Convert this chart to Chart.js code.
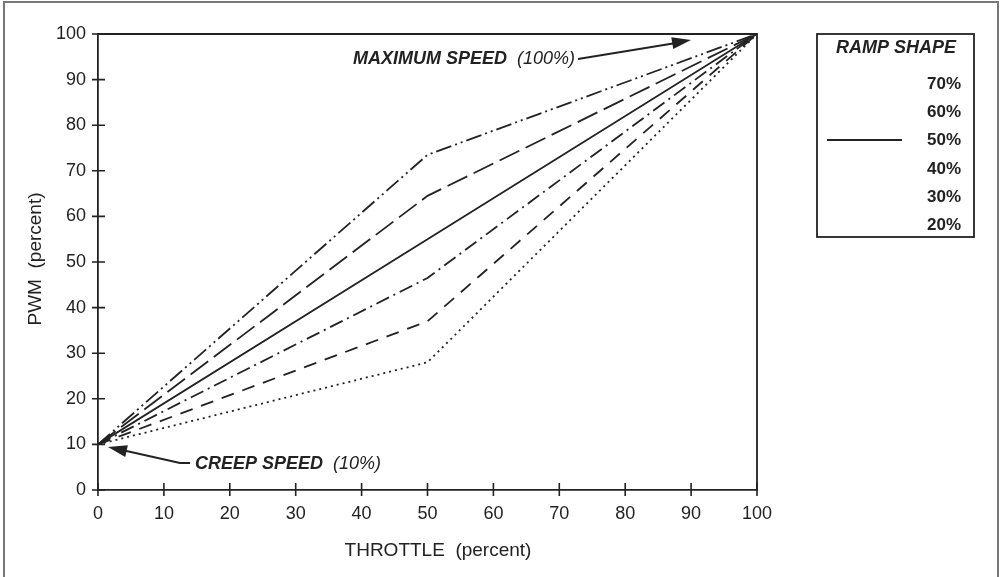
<!DOCTYPE html>
<html>
<head>
<meta charset="utf-8">
<script src="https://cdn.jsdelivr.net/npm/chart.js@4.4.1/dist/chart.umd.min.js"></script>
<style>
  html, body { margin: 0; padding: 0; background: #fff; }
  #wrap { width: 1000px; height: 577px; }
</style>
</head>
<body>
<div id="wrap"><canvas id="RampChart" width="1000" height="577"></canvas></div>
<script>
// throttle positions (percent) and PWM output for each ramp shape
const throttle = [0, 50, 100];
const ramp70 = [10, 73.5, 100];
const ramp60 = [10, 64.5, 100];
const ramp50 = [10, 55, 100];
const ramp40 = [10, 46.5, 100];
const ramp30 = [10, 37, 100];
const ramp20 = [10, 28, 100];
const rampLabels = ['70%', '60%', '50%', '40%', '30%', '20%'];
const xTicks = [0, 10, 20, 30, 40, 50, 60, 70, 80, 90, 100];
const yTicks = [0, 10, 20, 30, 40, 50, 60, 70, 80, 90, 100];

const INK = '#222';
const FONT = '"Liberation Sans", Arial, sans-serif';

function pts(values) {
    return throttle.map((t, i) => ({ x: t, y: values[i] }));
}

function ramp(label, values, dash) {
    return {
        label: label,
        data: pts(values),
        borderColor: INK,
        borderWidth: 1.8,
        borderDash: dash,
        pointRadius: 0,
        fill: false,
        tension: 0
    };
}

function arrowHead(ctx, fx, fy, tx, ty) {
    const ang = Math.atan2(ty - fy, tx - fx);
    const len = 19, half = 6;
    ctx.beginPath();
    ctx.moveTo(tx, ty);
    ctx.lineTo(tx - len * Math.cos(ang) + half * Math.sin(ang), ty - len * Math.sin(ang) - half * Math.cos(ang));
    ctx.lineTo(tx - len * Math.cos(ang) - half * Math.sin(ang), ty - len * Math.sin(ang) + half * Math.cos(ang));
    ctx.closePath();
    ctx.fill();
}

// frame, crossing ticks, titles, notes and the ramp legend
const extras = {
    id: 'extras',
    afterDraw(chart) {
        const { ctx, chartArea: a } = chart;
        const xs = chart.scales.x, ys = chart.scales.y;
        ctx.save();
        ctx.strokeStyle = INK;
        ctx.fillStyle = INK;
        ctx.setLineDash([]);

        // outer frame
        ctx.strokeStyle = '#777';
        ctx.lineWidth = 2;
        ctx.strokeRect(4, 2, 994, 590);
        ctx.strokeStyle = INK;

        // plot box top / right
        ctx.lineWidth = 1.8;
        ctx.beginPath();
        ctx.moveTo(a.left, a.top);
        ctx.lineTo(a.right, a.top);
        ctx.lineTo(a.right, a.bottom);
        ctx.stroke();

        // ticks crossing the axes
        ctx.lineWidth = 1.6;
        ctx.beginPath();
        yTicks.forEach(v => {
            const py = ys.getPixelForValue(v);
            ctx.moveTo(a.left - 6, py);
            ctx.lineTo(a.left + 7, py);
        });
        xTicks.forEach(v => {
            const px = xs.getPixelForValue(v);
            ctx.moveTo(px, a.bottom - 7);
            ctx.lineTo(px, a.bottom + 6);
        });
        ctx.stroke();

        // axis titles
        ctx.font = '19px ' + FONT;
        ctx.textAlign = 'center';
        ctx.textBaseline = 'middle';
        ctx.fillText('THROTTLE  (percent)', 438, 551);
        ctx.save();
        ctx.translate(36, 259);
        ctx.rotate(-Math.PI / 2);
        ctx.fillText('PWM  (percent)', 0, 0);
        ctx.restore();

        // notes
        ctx.textAlign = 'left';
        ctx.font = 'italic bold 18px ' + FONT;
        ctx.fillText('MAXIMUM SPEED', 353, 59);
        let w = ctx.measureText('MAXIMUM SPEED  ').width;
        ctx.font = 'italic 18px ' + FONT;
        ctx.fillText('(100%)', 353 + w, 59);

        ctx.font = 'italic bold 18px ' + FONT;
        ctx.fillText('CREEP SPEED', 195, 464);
        w = ctx.measureText('CREEP SPEED  ').width;
        ctx.font = 'italic 18px ' + FONT;
        ctx.fillText('(10%)', 195 + w, 464);

        ctx.lineWidth = 1.8;
        ctx.beginPath();
        ctx.moveTo(578, 59);
        ctx.lineTo(676, 43);
        ctx.stroke();
        arrowHead(ctx, 578, 59, 691, 40);

        ctx.beginPath();
        ctx.moveTo(190, 463);
        ctx.lineTo(180, 463);
        ctx.lineTo(122, 450);
        ctx.stroke();
        arrowHead(ctx, 180, 463, 108, 447);

        // legend box
        ctx.lineWidth = 1.8;
        ctx.strokeRect(817, 34, 157, 203);
        ctx.font = 'italic bold 18px ' + FONT;
        ctx.textAlign = 'center';
        ctx.fillText('RAMP SHAPE', 896, 48);
        ctx.font = 'bold 17px ' + FONT;
        ctx.textAlign = 'left';
        rampLabels.forEach((lab, i) => {
            ctx.fillText(lab, 927, 84 + i * 28.3);
        });
        ctx.beginPath();
        ctx.moveTo(827, 140);
        ctx.lineTo(902, 140);
        ctx.stroke();

        ctx.restore();
    }
};

const ctx = document.getElementById('RampChart').getContext('2d');

new Chart(ctx, {
    type: 'line',
    data: {
        datasets: [
            ramp('70%', ramp70, [16, 4, 2, 4, 2, 4]),
            ramp('60%', ramp60, [22, 7]),
            ramp('50%', ramp50, []),
            ramp('40%', ramp40, [14, 5, 2, 5]),
            ramp('30%', ramp30, [13, 9]),
            ramp('20%', ramp20, [2, 4])
        ]
    },
    options: {
        responsive: false,
        animation: false,
        layout: {
            padding: { top: 34, right: 243, left: 0, bottom: 0 }
        },
        plugins: {
            legend: { display: false },
            tooltip: { enabled: false }
        },
        scales: {
            x: {
                type: 'linear',
                min: 0,
                max: 100,
                afterFit: function(scale) { scale.height = 87; },
                afterBuildTicks: function(scale) { scale.ticks = xTicks.map(v => ({ value: v })); },
                ticks: {
                    color: INK,
                    padding: 6,
                    font: { family: FONT, size: 18 }
                },
                grid: {
                    drawOnChartArea: false,
                    color: 'rgba(0,0,0,0)',
                    tickLength: 7
                },
                border: { color: INK, width: 1.8 }
            },
            y: {
                min: 0,
                max: 100,
                afterFit: function(scale) { scale.width = 98; },
                afterBuildTicks: function(scale) { scale.ticks = yTicks.map(v => ({ value: v })); },
                ticks: {
                    color: INK,
                    padding: 6,
                    font: { family: FONT, size: 18 }
                },
                grid: {
                    drawOnChartArea: false,
                    color: 'rgba(0,0,0,0)',
                    tickLength: 6
                },
                border: { color: INK, width: 1.8 }
            }
        }
    },
    plugins: [extras]
});
</script>
</body>
</html>
